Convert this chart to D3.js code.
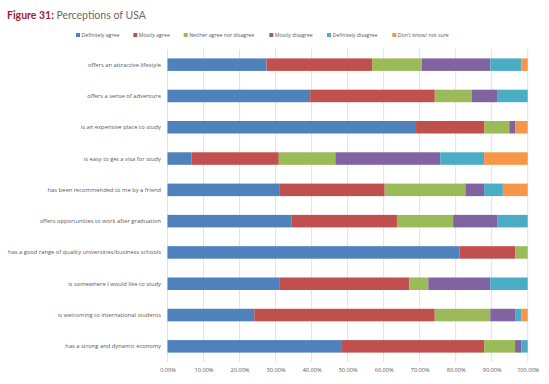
<!DOCTYPE html>
<html><head><meta charset="utf-8">
<script src="https://cdn.jsdelivr.net/npm/d3@7"></script>
<style>body{margin:0;background:#fff}svg{display:block}</style>
</head><body>
<script>
const categories = [
  "offers an attractive lifestyle",
  "offers a sense of adventure",
  "is an expensive place to study",
  "is easy to get a visa for study",
  "has been recommended to me by a friend",
  "offers opportunities to work after graduation",
  "has a good range of quality universities/business schools",
  "is somewhere I would like to study",
  "is welcoming to international students",
  "has a strong and dynamic economy"
];
const seriesNames = ["Definitely agree","Mostly agree","Neither agree nor disagree","Mostly disagree","Definitely disagree","Don't know/ not sure"];
const definitelyAgree   = [27.5, 39.6, 69.0,  6.7, 31.0, 34.5, 81.1, 31.0, 24.1, 48.2];
const mostlyAgree       = [29.3, 34.6, 18.9, 24.2, 29.3, 29.2, 15.4, 36.1, 50.1, 39.7];
const neither           = [13.8, 10.3,  7.0, 15.7, 22.4, 15.6,  3.5,  5.3, 15.4,  8.6];
const mostlyDisagree    = [19.0,  7.0,  1.6, 29.1,  5.2, 12.2,  0.0, 17.2,  6.9,  1.7];
const definitelyDisagree= [ 8.6,  8.5,  0.0, 12.2,  5.2,  8.5,  0.0, 10.4,  1.7,  1.8];
const dontKnow          = [ 1.8,  0.0,  3.5, 12.1,  6.9,  0.0,  0.0,  0.0,  1.8,  0.0];
const tickValues = [0,10,20,30,40,50,60,70,80,90,100];
const colors = ["#4F81BD","#C0504D","#9BBB59","#8064A2","#4BACC6","#F79646"];

const W = 549, H = 384;
const svg = d3.select("body").append("svg").attr("width", W).attr("height", H);
const fontFam = "'Open Sans', 'Liberation Sans', sans-serif";

// title
const title = svg.append("text").attr("x", 7).attr("y", 19)
  .attr("font-family", "Lato, 'Open Sans', sans-serif").attr("font-size", 10.5);
title.append("tspan").attr("fill", "#A01C34").attr("font-weight", "bold").text("Figure 31: ");
title.append("tspan").attr("fill", "#6a6a6a").text("Perceptions of USA");

const rows = categories.map((c, i) => {
  const r = {cat: c};
  [definitelyAgree, mostlyAgree, neither, mostlyDisagree, definitelyDisagree, dontKnow]
    .forEach((arr, k) => r[seriesNames[k]] = arr[i]);
  return r;
});
const stacked = d3.stack().keys(seriesNames)(rows);

const x = d3.scaleLinear().domain([0, 100]).range([167.5, 527.7]);
const y = d3.scaleBand().domain(categories).range([49, 362]).paddingInner(0.6).paddingOuter(0.3);

// gridlines
svg.append("g").selectAll("line").data(tickValues).join("line")
  .attr("x1", d => x(d)).attr("x2", d => x(d)).attr("y1", 49).attr("y2", 362)
  .attr("stroke", "#e3e3e3").attr("stroke-width", 1);

// bars
svg.append("g").selectAll("g").data(stacked).join("g")
  .attr("fill", (d, i) => colors[i])
  .selectAll("rect").data(d => d).join("rect")
  .attr("x", d => x(d[0])).attr("width", d => Math.max(0, x(d[1]) - x(d[0])))
  .attr("y", d => y(d.data.cat)).attr("height", y.bandwidth());

// category labels
svg.append("g").selectAll("text").data(categories).join("text")
  .attr("x", 161).attr("y", d => y(d) + y.bandwidth() / 2).attr("dy", "0.35em")
  .attr("text-anchor", "end").attr("font-family", fontFam).attr("font-size", 5.8)
  .attr("fill", "#595959").text(d => d);

// x axis
const xAxis = d3.axisBottom(x).tickValues(tickValues).tickFormat(d => d.toFixed(2) + "%").tickSize(0).tickPadding(6);
const gx = svg.append("g").attr("transform", "translate(0,362)").call(xAxis);
gx.select(".domain").remove();
gx.selectAll("text").attr("font-family", fontFam).attr("font-size", 5.6).attr("fill", "#595959");

// legend
const legendX = [76, 133.3, 183.7, 269.3, 327, 392.3];
const lg = svg.append("g").selectAll("g").data(seriesNames).join("g")
  .attr("transform", (d, i) => `translate(${legendX[i]},35)`);
lg.append("rect").attr("x", 0).attr("y", -2).attr("width", 4).attr("height", 4).attr("fill", (d, i) => colors[i]);
lg.append("text").attr("x", 5.5).attr("y", 0).attr("dy", "0.35em")
  .attr("font-family", fontFam).attr("font-size", 5.2).attr("fill", "#595959").text(d => d);
</script>
</body></html>
